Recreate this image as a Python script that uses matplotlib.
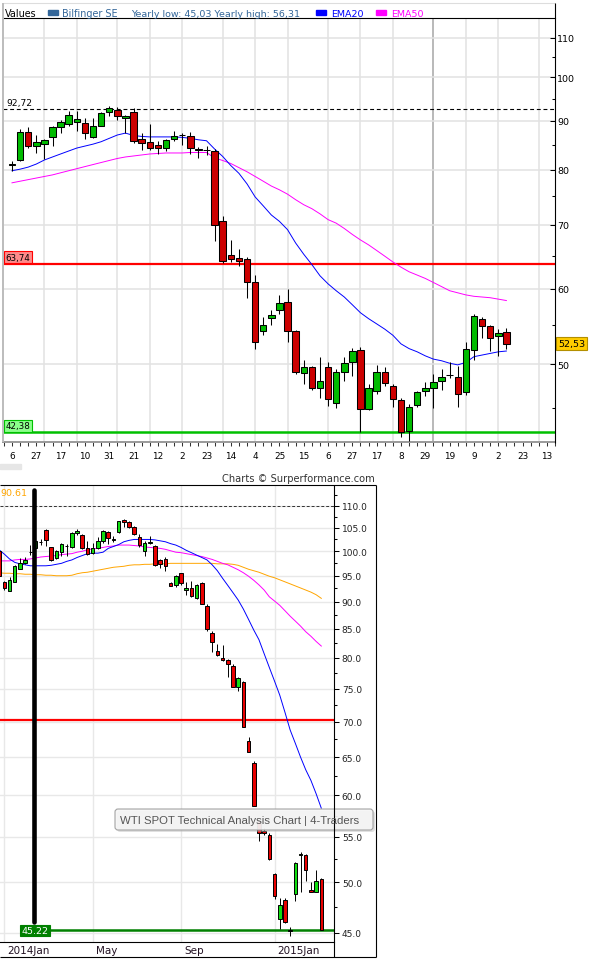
import numpy as np
import pandas as pd
import matplotlib
matplotlib.use("Agg")
import matplotlib.pyplot as plt
from matplotlib.patches import Rectangle, FancyBboxPatch
from matplotlib.ticker import FixedLocator, FuncFormatter, NullFormatter
from matplotlib.transforms import ScaledTranslation

plt.rcParams["font.family"] = ["DejaVu Sans"]

W, H = 589, 970

# ---------------- Bilfinger SE, weekly candles from the week of 6 Jan 2014 ----------------
bil_open = [80.9, 81.8, 87.7, 84.8, 85.2, 86.6, 88.6, 89.4, 89.8, 89.5,
            86.6, 89.0, 91.9, 92.4, 90.6, 91.9, 86.2, 85.6, 84.9, 84.4,
            86.2, 87.0, 86.8, 84.0, 84.0, 83.6, 70.6, 65.1, 64.6, 64.4,
            60.9, 54.1, 55.9, 57.0, 58.1, 54.2, 48.9, 49.7, 47.2, 49.6,
            45.5, 49.1, 50.3, 51.7, 44.8, 46.9, 49.1, 47.4, 45.8, 42.5,
            45.3, 46.9, 47.2, 48.0, 48.7, 48.5, 46.7, 51.7, 55.8, 54.8,
            53.5, 54.0]
bil_high = [81.6, 88.3, 88.7, 87.0, 86.2, 89.0, 90.3, 92.1, 92.3, 90.7,
            90.7, 91.9, 93.3, 93.1, 91.4, 92.8, 87.4, 89.3, 85.8, 86.2,
            87.8, 87.5, 87.7, 84.5, 84.8, 84.2, 71.5, 67.5, 66.1, 64.8,
            62.0, 56.0, 57.0, 59.1, 60.0, 54.3, 50.5, 49.8, 50.8, 50.3,
            49.4, 50.8, 52.0, 52.1, 47.6, 49.9, 49.7, 47.6, 46.1, 45.4,
            46.9, 47.9, 48.8, 49.4, 50.3, 49.8, 52.7, 56.4, 56.0, 55.0,
            54.4, 54.5]
bil_low = [79.8, 81.7, 84.3, 83.3, 82.1, 84.8, 87.5, 89.0, 87.8, 86.2,
           86.4, 88.9, 91.1, 90.3, 87.5, 85.3, 83.8, 83.8, 83.1, 83.6,
           85.8, 85.0, 83.1, 82.2, 82.9, 67.4, 63.9, 64.0, 63.4, 58.7,
           51.9, 53.7, 55.0, 56.4, 52.8, 48.8, 47.6, 47.0, 46.1, 45.2,
           45.0, 48.0, 48.6, 42.4, 44.7, 46.5, 47.4, 45.1, 41.9, 41.5,
           45.1, 46.3, 45.0, 47.0, 48.3, 45.1, 46.4, 50.5, 53.3, 51.6,
           51.0, 51.8]
bil_close = [81.1, 87.7, 84.8, 85.6, 86.0, 88.7, 89.7, 91.3, 90.4, 87.4,
             89.0, 91.7, 92.8, 91.0, 91.1, 85.8, 85.3, 84.3, 84.3, 86.0,
             86.7, 87.1, 84.3, 84.1, 83.9, 70.0, 64.2, 64.4, 64.1, 60.9,
             52.7, 55.0, 56.3, 57.9, 54.2, 49.1, 49.7, 47.2, 48.0, 45.9,
             49.1, 50.1, 51.6, 44.8, 47.2, 49.0, 47.8, 46.0, 42.4, 45.1,
             46.7, 47.2, 47.9, 48.4, 48.75, 46.5, 51.8, 56.1, 54.8, 53.2,
             53.9, 52.53]
bil_ema20 = [79.8, 80.1, 80.5, 81.1, 81.9, 82.5, 83.1, 83.7, 84.3, 84.7,
             85.1, 85.6, 86.3, 87.0, 87.4, 86.9, 86.7, 86.6, 86.6, 86.6,
             86.6, 86.5, 86.3, 86.0, 85.8, 84.1, 82.6, 80.8, 79.3, 77.3,
             74.9, 73.3, 71.7, 70.6, 69.2, 67.0, 65.2, 63.6, 61.9, 60.7,
             59.7, 58.8, 57.7, 56.6, 55.8, 55.1, 54.4, 53.6, 52.5, 51.9,
             51.5, 51.0, 50.6, 50.4, 50.1, 49.9, 50.2, 50.9, 51.1, 51.3,
             51.5, 51.6]
bil_ema50 = [77.5, 77.8, 78.1, 78.4, 78.7, 79.0, 79.4, 79.8, 80.2, 80.6,
             81.0, 81.4, 81.8, 82.2, 82.5, 82.7, 82.9, 83.1, 83.2, 83.3,
             83.3, 83.3, 83.4, 83.4, 83.4, 82.3, 81.8, 81.2, 80.4, 79.6,
             78.7, 77.8, 76.9, 76.2, 75.4, 74.4, 73.5, 72.8, 71.9, 70.9,
             70.3, 69.4, 68.4, 67.5, 66.7, 65.8, 64.9, 64.0, 63.2, 62.5,
             62.0, 61.5, 60.9, 60.3, 59.7, 59.4, 59.1, 58.9, 58.8, 58.7,
             58.5, 58.3]
bil_xlabels = ["6", "27", "17", "10", "31", "21", "12", "2", "23", "14", "4", "25",
               "15", "6", "27", "17", "8", "29", "19", "9", "2", "23", "13"]
bil_yticks = [50, 60, 70, 80, 90, 100, 110]
bil_minor_yticks = [45, 55, 65, 75, 85, 95, 105]
bil_high_mark = 92.72
bil_resist = 63.74
bil_support = 42.38
bil_last = 52.53

# ---------------- WTI spot, weekly candles ----------------
wti_open = [100.1, 93.8, 92.1, 93.8, 96.4, 97.6, 99.8, 100.6, 101.9, 104.6,
            100.8, 98.5, 99.8, 101.1, 100.8, 103.8, 103.5, 100.7, 99.6, 100.7,
            102.1, 104.1, 102.4, 104.1, 106.8, 106.2, 105.1, 103.0, 100.1, 101.8,
            101.0, 98.2, 98.4, 93.6, 93.2, 95.5, 92.3, 92.5, 90.6, 93.5,
            89.2, 84.3, 81.1, 80.0, 79.7, 78.7, 75.2, 76.0, 67.2, 64.2,
            56.8, 55.7, 55.2, 50.9, 46.3, 48.2, 45.2, 48.8, 52.9, 52.9,
            49.2, 49.0, 50.4]
wti_high = [100.4, 94.0, 94.7, 97.1, 98.5, 98.7, 101.3, 103.3, 102.6, 104.7,
            100.8, 100.3, 101.8, 101.5, 104.2, 104.8, 103.7, 102.1, 101.7, 103.0,
            104.6, 104.4, 103.2, 106.6, 107.0, 106.5, 105.5, 103.6, 102.1, 103.2,
            101.3, 98.4, 98.7, 93.8, 95.1, 95.5, 93.8, 94.0, 93.3, 93.8,
            89.6, 84.7, 82.4, 82.1, 79.8, 78.9, 76.8, 76.2, 67.8, 64.4,
            57.0, 56.0, 55.4, 51.0, 48.4, 48.4, 45.5, 52.2, 53.3, 53.1,
            50.0, 51.3, 50.5]
wti_low = [94.8, 92.2, 92.0, 93.7, 96.4, 97.4, 99.2, 100.4, 101.3, 101.2,
           98.0, 98.3, 99.1, 99.1, 100.6, 103.5, 100.5, 99.2, 99.4, 100.4,
           101.7, 101.6, 102.0, 103.9, 105.3, 105.0, 103.4, 100.9, 99.1, 101.5,
           97.0, 96.6, 96.0, 93.0, 92.8, 93.2, 91.2, 90.9, 90.4, 89.6,
           84.7, 81.0, 80.3, 79.4, 76.8, 75.2, 74.7, 69.2, 65.7, 58.7,
           54.5, 55.2, 52.4, 48.3, 45.4, 45.9, 44.7, 48.1, 49.0, 50.2,
           49.0, 49.0, 45.22]
wti_close = [95.0, 92.5, 94.2, 96.9, 97.5, 98.2, 99.9, 102.1, 102.0, 102.4,
             98.2, 100.0, 101.5, 101.2, 103.8, 104.4, 100.7, 99.4, 100.7, 102.1,
             104.3, 102.8, 102.5, 106.5, 106.4, 105.3, 103.6, 101.3, 101.7, 101.9,
             97.2, 97.4, 96.9, 93.0, 94.9, 93.5, 92.6, 91.1, 93.1, 89.6,
             85.0, 82.7, 80.5, 79.6, 78.9, 75.2, 76.7, 69.2, 65.7, 58.7,
             55.4, 55.4, 52.5, 48.6, 47.7, 46.0, 45.3, 52.1, 53.1, 51.3,
             49.0, 50.2, 45.22]
wti_ma_fast = [100.3, 99.4, 98.4, 97.7, 97.4, 97.2, 97.0, 97.0, 97.0, 97.0,
               97.1, 97.3, 97.5, 97.9, 98.2, 98.7, 99.1, 99.5, 99.6, 99.6,
               99.8, 100.6, 101.0, 101.4, 102.0, 102.3, 102.5, 102.5, 102.5, 102.5,
               102.4, 102.2, 102.0, 101.6, 101.3, 100.8, 100.2, 99.7, 99.2, 98.7,
               98.2, 97.2, 96.0, 94.5, 93.1, 91.7, 90.3, 88.6, 86.7, 84.8,
               83.1, 80.7, 78.4, 76.2, 74.0, 71.4, 68.8, 66.9, 65.0, 63.3,
               61.9, 60.2, 58.4]
wti_ma_mid = [98.0, 98.0, 98.0, 98.2, 98.3, 98.3, 98.4, 98.6, 98.8, 98.9,
              99.0, 99.1, 99.3, 99.4, 99.5, 99.8, 100.0, 100.3, 100.5, 100.6,
              100.8, 101.0, 101.1, 101.3, 101.3, 101.3, 101.2, 101.1, 100.9, 100.8,
              100.7, 100.6, 100.4, 100.1, 99.8, 99.7, 99.5, 99.3, 99.1, 98.9,
              98.6, 98.3, 97.9, 97.5, 97.2, 96.7, 96.2, 95.6, 94.9, 94.1,
              93.2, 92.2, 90.9, 90.1, 89.3, 88.3, 87.3, 86.4, 85.5, 84.5,
              83.7, 82.8, 82.0]
wti_ma_slow = [95.6, 95.5, 95.5, 95.4, 95.4, 95.3, 95.3, 95.2, 95.2, 95.1,
               95.1, 95.0, 95.0, 95.0, 95.1, 95.4, 95.6, 95.7, 95.9, 96.1,
               96.3, 96.5, 96.7, 96.8, 96.9, 97.1, 97.2, 97.2, 97.3, 97.3,
               97.4, 97.4, 97.4, 97.5, 97.5, 97.5, 97.5, 97.5, 97.5, 97.5,
               97.5, 97.5, 97.4, 97.4, 97.4, 97.3, 97.1, 96.7, 96.3, 96.0,
               95.7, 95.3, 94.9, 94.6, 94.2, 93.8, 93.4, 93.0, 92.6, 92.2,
               91.8, 91.3, 90.61]
wti_month_pos = [0, 17, 34, 52]
wti_month_labels = ["2014Jan", "May", "Sep", "2015Jan"]
wti_yticks = [45.0, 50.0, 55.0, 60.0, 65.0, 70.0, 75.0, 80.0, 85.0, 90.0,
              95.0, 100.0, 105.0, 110.0]
wti_minor_yticks = [47.5, 52.5, 57.5, 62.5, 67.5, 72.5, 77.5, 82.5, 87.5,
                    92.5, 97.5, 102.5, 107.5, 112.5]
wti_dash_level = 110.0
wti_red_level = 70.3
wti_last = 45.22
wti_cursor = 5.8


def frac(x0, y0, x1, y1):
    """Pixel box (top-left origin) -> figure rectangle."""
    return [x0 / W, 1 - y1 / H, (x1 - x0) / W, (y1 - y0) / H]


def draw_candles(ax, x, o, h, l, c, width, up, down, lw):
    o, h, l, c = (np.asarray(v, float) for v in (o, h, l, c))
    ax.vlines(x, l, h, colors="black", linewidth=lw, zorder=4)
    rising = c >= o
    ax.bar(x, np.abs(c - o), bottom=np.minimum(o, c), width=width,
           color=np.where(rising, up, down), edgecolor="black",
           linewidth=lw, zorder=5)


fig = plt.figure(figsize=(W / 100, H / 100), dpi=100)
fig.patch.set_facecolor("white")

# ======================= upper chart =======================
ax1 = fig.add_axes(frac(3, 19, 555, 443))
ax1.set_yscale("log")
x1 = np.arange(len(bil_close))

weeks = pd.date_range("2014-01-06", periods=68, freq="7D")
for i in range(1, len(weeks)):
    if weeks[i].month != weeks[i - 1].month:
        new_year = weeks[i].year != weeks[i - 1].year
        ax1.axvline(i, color="#a6a6a6" if new_year else "#e2e2e2",
                    lw=1.1, zorder=1)
for v in bil_yticks:
    ax1.axhline(v, color="#e2e2e2", lw=1.1, zorder=1)

ax1.axhline(bil_high_mark, color="black", lw=0.8, ls=(0, (3.5, 2.5)), zorder=2)
ax1.axhline(bil_resist, color="#ff0000", lw=1.6, zorder=3)
ax1.axhline(bil_support, color="#00c000", lw=1.8, zorder=3)

ax1.plot(x1, bil_ema50, color="#ff00ff", lw=0.7, zorder=3)
ax1.plot(x1, bil_ema20, color="#0000ff", lw=0.7, zorder=3)
draw_candles(ax1, x1, bil_open, bil_high, bil_low, bil_close,
             0.8, "#00bb00", "#cc0000", 0.75)

ax1.set_xlim(-1.11, 67.0)
ax1.set_ylim(41.41, 115.45)

ax1.yaxis.tick_right()
ax1.yaxis.set_major_locator(FixedLocator(bil_yticks))
ax1.yaxis.set_major_formatter(FuncFormatter(lambda v, p: f"{v:.0f}"))
ax1.yaxis.set_minor_locator(FixedLocator(bil_minor_yticks))
ax1.yaxis.set_minor_formatter(NullFormatter())
ax1.tick_params(axis="y", which="major", direction="in", length=3.6,
                width=0.75, pad=1.5, labelsize=6.8, colors="black")
ax1.tick_params(axis="y", which="minor", direction="in", length=2.2, width=0.75)

ax1.set_xticks(range(0, 3 * len(bil_xlabels), 3))
ax1.set_xticklabels(bil_xlabels)
ax1.set_xticks(np.arange(-1, 68), minor=True)
ax1.tick_params(axis="x", which="both", direction="out", length=2.6,
                width=0.75, color="#333333")
ax1.tick_params(axis="x", which="major", pad=4, labelsize=6.4)

ax1.spines["right"].set_visible(False)
ax1.spines["top"].set_color("black")
ax1.spines["top"].set_linewidth(0.8)
ax1.spines["left"].set_color("#bdbdbd")
ax1.spines["left"].set_linewidth(1.4)
ax1.spines["bottom"].set_color("#9a9a9a")
ax1.spines["bottom"].set_linewidth(1.4)

ax1.annotate("92,72", xy=(0, bil_high_mark), xycoords=("axes fraction", "data"),
             xytext=(3, 1.5), textcoords="offset pixels", ha="left", va="bottom",
             fontsize=6.6, zorder=6)
ax1.annotate(f"{bil_resist:.2f}".replace(".", ","), xy=(0, bil_resist),
             xycoords=("axes fraction", "data"), xytext=(2.5, 2),
             textcoords="offset pixels", ha="left", va="bottom", fontsize=6.3,
             bbox=dict(boxstyle="square,pad=0.18", fc="#ff8a8a", ec="#ff0000", lw=0.8),
             zorder=6)
ax1.annotate(f"{bil_support:.2f}".replace(".", ","), xy=(0, bil_support),
             xycoords=("axes fraction", "data"), xytext=(2.5, 2),
             textcoords="offset pixels", ha="left", va="bottom", fontsize=6.3,
             bbox=dict(boxstyle="square,pad=0.18", fc="#8cff8c", ec="#00c000", lw=0.8),
             zorder=6)
ax1.annotate(f"{bil_last:.2f}".replace(".", ","), xy=(1, bil_last),
             xycoords=("axes fraction", "data"), xytext=(3, 0),
             textcoords="offset pixels", ha="left", va="center", fontsize=6.8,
             bbox=dict(boxstyle="square,pad=0.25", fc="#ffcc00", ec="#b38f00", lw=0.8),
             annotation_clip=False, zorder=6)

# ======================= lower chart =======================
ax2 = fig.add_axes(frac(0, 486, 334.3, 943.3))
ax2.set_yscale("log")
x2 = np.arange(-1, len(wti_close) - 1)

for v in wti_yticks:
    ax2.axhline(v, color="#e8e8e8", lw=1.0, zorder=1)
for p in wti_month_pos:
    ax2.axvline(p, color="#e8e8e8", lw=1.0, zorder=1)

ax2.axhline(wti_dash_level, color="#333333", lw=0.7, ls=(0, (3, 2)), zorder=2)
ax2.axhline(wti_red_level, color="#ff0000", lw=1.6, zorder=3)
ax2.axhline(wti_last, xmin=51 / 334.3, color="#008000", lw=1.8, zorder=3)

ax2.plot(x2, wti_ma_slow, color="#ffa500", lw=0.7, zorder=3)
ax2.plot(x2, wti_ma_mid, color="#ff00ff", lw=0.7, zorder=3)
ax2.plot(x2, wti_ma_fast, color="#0000ff", lw=0.7, zorder=3)
draw_candles(ax2, x2, wti_open, wti_high, wti_low, wti_close,
             0.68, "#11dd11", "#e80000", 0.7)

ax2.axvline(wti_cursor, ymin=0.045, ymax=0.99, color="black", lw=3.3,
            solid_capstyle="round", zorder=7)

ax2.set_xlim(-0.83, 63.5)
ax2.set_ylim(44.11, 114.87)

ax2.yaxis.tick_right()
ax2.yaxis.set_major_locator(FixedLocator(wti_yticks))
ax2.yaxis.set_major_formatter(FuncFormatter(lambda v, p: f"{v:.1f}"))
ax2.yaxis.set_minor_locator(FixedLocator(wti_minor_yticks))
ax2.yaxis.set_minor_formatter(NullFormatter())
ax2.tick_params(axis="y", which="major", direction="out", length=3.6,
                width=0.75, pad=1.8, labelsize=6.5, labelcolor="#222222")
ax2.tick_params(axis="y", which="minor", direction="out", length=2.2, width=0.75)

ax2.set_xticks(wti_month_pos)
ax2.set_xticklabels(wti_month_labels)
ax2.tick_params(axis="x", length=0, pad=2.2, labelsize=7.5, labelcolor="#221122")
shift = ScaledTranslation(3 / 100, 0, fig.dpi_scale_trans)
for lab in ax2.get_xticklabels():
    lab.set_horizontalalignment("left")
    lab.set_transform(lab.get_transform() + shift)

for s in ("top", "right", "left"):
    ax2.spines[s].set_visible(False)
ax2.spines["bottom"].set_color("black")
ax2.spines["bottom"].set_linewidth(0.8)

ax2.annotate(f"{wti_last:.2f}", xy=(35 / 334.3, wti_last),
             xycoords=("axes fraction", "data"), ha="center", va="center",
             fontsize=6.8, color="white", zorder=8,
             bbox=dict(boxstyle="square,pad=0.15", fc="#008000", ec="#008000", lw=0.8))

# ======================= page furniture (pixel coordinates) =======================
ov = fig.add_axes([0, 0, 1, 1], zorder=10)
ov.set_xlim(0, W)
ov.set_ylim(H, 0)
ov.set_facecolor("none")
ov.axis("off")


def seg(x0, y0, x1, y1, **kw):
    ov.plot([x0, x1], [y0, y1], solid_capstyle="butt", **kw)


# upper frame
seg(3, 4, 555, 4, color="#dddddd", lw=0.8)
seg(3, 4, 3, 443, color="#bdbdbd", lw=1.4)
seg(555, 4, 555, 444, color="black", lw=0.8)

# legend row
ov.text(5, 17, "Values", fontsize=6.9, color="black", ha="left", va="baseline")
ov.add_patch(Rectangle((48, 11), 10, 4.5, color="#336699"))
ov.text(62, 17, "Bilfinger SE", fontsize=6.9, color="#336699", ha="left", va="baseline")
ov.text(131, 17, "Yearly low: 45,03 Yearly high: 56,31", fontsize=6.8,
        color="#336699", ha="left", va="baseline")
ov.add_patch(Rectangle((316, 11), 10, 4.5, color="#0000ff"))
ov.text(331, 17, "EMA20", fontsize=6.8, color="#0000ff", ha="left", va="baseline")
ov.add_patch(Rectangle((376, 11), 10, 4.5, color="#ff00ff"))
ov.text(391, 17, "EMA50", fontsize=6.8, color="#ff00ff", ha="left", va="baseline")

ov.add_patch(Rectangle((0, 465), 21, 5, color="#e6e6e6"))
ov.text(375, 479, "Charts \u00a9 Surperformance.com", fontsize=7.1, color="#333333",
        ha="right", va="center")

# lower frame
seg(0, 486, 375.5, 486, color="black", lw=0.8)
seg(375.5, 486, 375.5, 958, color="black", lw=0.8)
seg(0, 958, 375.5, 958, color="black", lw=0.8)
seg(334.3, 486, 334.3, 958, color="black", lw=0.8)
ov.text(0.5, 494, f"{wti_ma_slow[-1]:.2f}", fontsize=6.8, color="#ffa500",
        ha="left", va="center")

# tooltip
ov.add_patch(FancyBboxPatch((117, 812), 258, 21, boxstyle="round,pad=0,rounding_size=3",
                            fc="#bbbbbb", ec="none", alpha=0.45))
ov.add_patch(FancyBboxPatch((115, 810), 258, 21, boxstyle="round,pad=0,rounding_size=3",
                            fc="#f6f6f6", ec="#9a9a9a", lw=0.8, alpha=0.9))
ov.text(120, 821, "WTI SPOT Technical Analysis Chart | 4-Traders", fontsize=8.2,
        family="Liberation Sans", color="#555555", ha="left", va="center")

fig.savefig("out.png", dpi=100, facecolor="white")
